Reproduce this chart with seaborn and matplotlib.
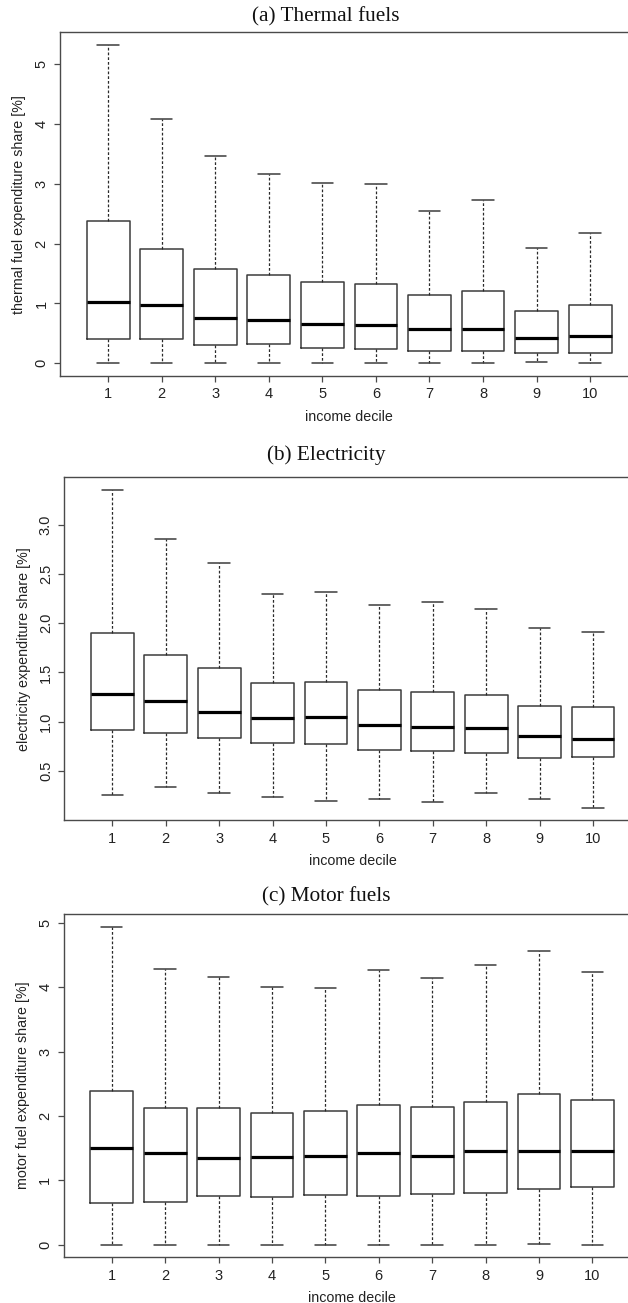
import pandas as pd
import matplotlib
matplotlib.use("Agg")
import matplotlib.pyplot as plt
import seaborn as sns

sns.set_theme(style="ticks")
plt.rcParams["font.family"] = ["Liberation Sans", "DejaVu Sans"]

deciles = list(range(1, 11))

# (a) thermal fuels - five number summary per income decile
thermal_lo = [0.00, 0.00, 0.00, 0.00, 0.00, 0.00, 0.00, 0.00, 0.02, 0.00]
thermal_q1 = [0.40, 0.40, 0.31, 0.32, 0.25, 0.24, 0.20, 0.21, 0.17, 0.17]
thermal_med = [1.03, 0.98, 0.76, 0.73, 0.66, 0.64, 0.58, 0.57, 0.42, 0.46]
thermal_q3 = [2.37, 1.91, 1.58, 1.47, 1.36, 1.33, 1.14, 1.21, 0.88, 0.98]
thermal_hi = [5.32, 4.09, 3.47, 3.16, 3.02, 2.99, 2.55, 2.73, 1.93, 2.18]

# (b) electricity
elec_lo = [0.26, 0.34, 0.28, 0.24, 0.20, 0.22, 0.19, 0.28, 0.22, 0.13]
elec_q1 = [0.92, 0.89, 0.84, 0.78, 0.77, 0.71, 0.70, 0.68, 0.635, 0.64]
elec_med = [1.28, 1.215, 1.10, 1.04, 1.05, 0.965, 0.945, 0.94, 0.855, 0.83]
elec_q3 = [1.90, 1.68, 1.55, 1.39, 1.40, 1.32, 1.30, 1.27, 1.165, 1.15]
elec_hi = [3.35, 2.85, 2.61, 2.30, 2.32, 2.18, 2.21, 2.14, 1.955, 1.915]

# (c) motor fuels
motor_lo = [0.00, 0.00, 0.00, 0.00, 0.00, 0.00, 0.00, 0.00, 0.005, 0.00]
motor_q1 = [0.65, 0.66, 0.76, 0.74, 0.77, 0.76, 0.78, 0.80, 0.86, 0.90]
motor_med = [1.50, 1.42, 1.34, 1.36, 1.37, 1.43, 1.38, 1.46, 1.46, 1.46]
motor_q3 = [2.38, 2.12, 2.13, 2.05, 2.07, 2.17, 2.14, 2.21, 2.34, 2.24]
motor_hi = [4.94, 4.29, 4.16, 4.00, 3.99, 4.27, 4.15, 4.34, 4.56, 4.23]


def summary_table(lo, q1, med, q3, hi):
    # five points per decile -> quartiles land exactly on q1/med/q3,
    # whiskers at min/max with whis=(0, 100)
    rows = []
    for i, d in enumerate(deciles):
        for v in (lo[i], q1[i], med[i], q3[i], hi[i]):
            rows.append({"decile": d, "share": v})
    return pd.DataFrame(rows)


panels = [
    {"title": "(a) Thermal fuels", "ylabel": "thermal fuel expenditure share [%]",
     "df": summary_table(thermal_lo, thermal_q1, thermal_med, thermal_q3, thermal_hi),
     "box": (60, 32.3, 376, 53.55), "yticks": [0, 1, 2, 3, 4, 5], "fmt": "%d",
     "title_y": 17, "ylab_x": 19},
    {"title": "(b) Electricity", "ylabel": "electricity expenditure share [%]",
     "df": summary_table(elec_lo, elec_q1, elec_med, elec_q3, elec_hi),
     "box": (64.3, 477.3, 820.3, 53.4), "yticks": [0.5, 1.0, 1.5, 2.0, 2.5, 3.0], "fmt": "%.1f",
     "title_y": 455, "ylab_x": 24},
    {"title": "(c) Motor fuels", "ylabel": "motor fuel expenditure share [%]",
     "df": summary_table(motor_lo, motor_q1, motor_med, motor_q3, motor_hi),
     "box": (63.7, 914, 1257.3, 53.4), "yticks": [0, 1, 2, 3, 4, 5], "fmt": "%d",
     "title_y": 897, "ylab_x": 23},
]

W, H = 628, 1303
fig = plt.figure(figsize=(W / 100, H / 100), dpi=100)
edge = "#3c3c3c"

for p in panels:
    left, top, bottom, step = p["box"]
    ax = fig.add_axes([left / W, 1 - bottom / H, 10.8 * step / W, (bottom - top) / H])
    sns.boxplot(data=p["df"], x="decile", y="share", ax=ax, whis=(0, 100),
                fill=False, width=0.8, color=edge, linewidth=1.0,
                capwidths=0.4,
                boxprops={"color": edge, "linewidth": 1.1},
                medianprops={"color": "black", "linewidth": 2.3},
                whiskerprops={"color": "#2a2a2a", "linewidth": 0.9, "linestyle": (0, (2.2, 1.6))},
                capprops={"color": edge, "linewidth": 1.1})

    lo, hi = p["df"]["share"].min(), p["df"]["share"].max()
    pad = 0.04 * (hi - lo)
    ax.set_ylim(lo - pad, hi + pad)
    ax.set_xlim(-0.9, 9.9)
    ax.set_yticks(p["yticks"])
    ax.set_yticklabels([p["fmt"] % t for t in p["yticks"]], rotation=90, va="center")

    for s in ax.spines.values():
        s.set_color("#4a4a4a")
        s.set_linewidth(1.0)
    ax.tick_params(axis="both", length=4, width=0.9, color="#4a4a4a",
                   labelsize=10.5, labelcolor="#222222", pad=4.2)

    ax.set_xlabel("income decile", fontsize=10.3, color="#222222", labelpad=6)
    ax.set_ylabel(p["ylabel"], fontsize=10.3, color="#222222", va="center")
    ax.yaxis.set_label_coords((p["ylab_x"] - left) / (10.8 * step), 0.5)

    fig.text(326 / W, 1 - p["title_y"] / H, p["title"], ha="center", va="center",
             fontsize=15.3, family=["Liberation Serif", "DejaVu Serif"], color="#111111")

fig.savefig("out.png", dpi=100)
